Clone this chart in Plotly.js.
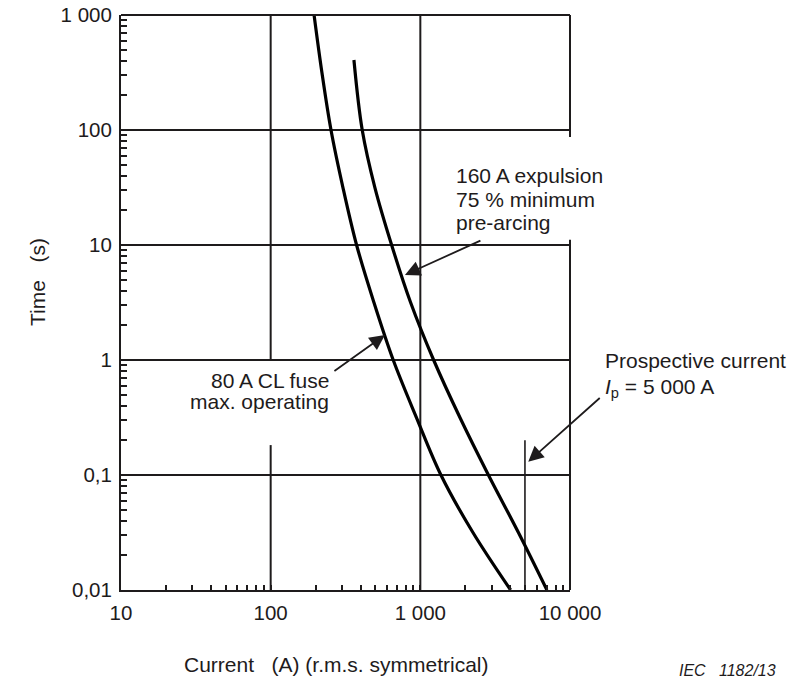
<!DOCTYPE html>
<html>
<head>
<meta charset="utf-8">
<script src="https://cdn.plot.ly/plotly-3.0.1.min.js"></script>
<style>html,body{margin:0;padding:0;background:#fff;}#chart{width:789px;height:677px;}</style>
</head>
<body>
<div id="chart"></div>
<script>
// Curve data (current in A, time in s)
const clFuseCurrent = [195, 220, 253, 304, 375, 490, 659, 942, 1373, 2246, 4011];
const clFuseTime    = [1000, 316, 100, 31.6, 10, 3.16, 1, 0.316, 0.1, 0.0316, 0.01];

const expulsionCurrent = [360, 409, 497, 643, 861, 1227, 1839, 2850, 4522, 7010];
const expulsionTime    = [406, 100, 31.6, 10, 3.16, 1, 0.316, 0.1, 0.0316, 0.01];

// Grid lines (partial, as in the reference)
const hGridTimes = [100, 10, 1, 0.1];
const gridXMin = 10, gridXMax = 10000;
const vGrid100 = {x: 100, segments: [[1000, 1], [0.182, 0.01]]};
const vGrid1000 = {x: 1000, segments: [[1000, 0.01]]};
const prospective = {x: 5000, segments: [[0.201, 0.01]]};

// Ticks
const xTickVals = [10,20,30,40,50,60,70,80,90,100,200,300,400,500,600,700,800,900,1000,2000,3000,4000,5000,6000,7000,8000,9000,10000];
const xTickText = ['10','','','','','','','','','100','','','','','','','','','1 000','','','','','','','','','10 000'];
const yTickVals = [0.01,0.02,0.03,0.04,0.05,0.06,0.07,0.08,0.09,0.1,0.2,0.3,0.4,0.5,0.6,0.7,0.8,0.9,1,2,3,4,5,6,7,8,9,10,20,30,40,50,60,70,80,90,100,200,300,400,500,600,700,800,900,1000];
const yTickText = ['0,01','','','','','','','','','0,1','','','','','','','','','1','','','','','','','','','10','','','','','','','','','100','','','','','','','','','1 000'];

const INK = '#1e1b1c';
const FONT = 'Liberation Sans, Arial, sans-serif';
const FS = 21;

const traces = [];
hGridTimes.forEach(t => traces.push({x: [gridXMin, gridXMax], y: [t, t], mode: 'lines', line: {color: INK, width: 2}, hoverinfo: 'skip'}));
[vGrid100, vGrid1000].forEach(g => g.segments.forEach(s => traces.push({x: [g.x, g.x], y: s, mode: 'lines', line: {color: INK, width: 2}, hoverinfo: 'skip'})));
prospective.segments.forEach(s => traces.push({x: [prospective.x, prospective.x], y: s, mode: 'lines', line: {color: INK, width: 1.6}, hoverinfo: 'skip'}));
traces.push({x: clFuseCurrent, y: clFuseTime, mode: 'lines', line: {color: '#000', width: 3.2, shape: 'spline', smoothing: 1}, name: '80 A CL fuse'});
traces.push({x: expulsionCurrent, y: expulsionTime, mode: 'lines', line: {color: '#000', width: 3.2, shape: 'spline', smoothing: 1}, name: '160 A expulsion'});

const lg = Math.log10;
function label(text, x, y, xanchor) {
  return {xref: 'paper', yref: 'paper', x: x, y: y, xanchor: xanchor, yanchor: 'middle', align: xanchor, showarrow: false, text: text, font: {size: FS}};
}
function arrow(xv, yv, ax, ay) {
  return {xref: 'x', yref: 'y', x: lg(xv), y: lg(yv), text: '', showarrow: true, arrowhead: 2, arrowsize: 1.7, arrowwidth: 1.8, arrowcolor: INK, ax: ax, ay: ay, standoff: 0};
}
const layout = {
  width: 789, height: 677,
  margin: {l: 121, r: 219, t: 15, b: 87},
  paper_bgcolor: '#fff', plot_bgcolor: '#fff',
  showlegend: false,
  font: {family: FONT, color: INK, size: FS},
  xaxis: {type: 'log', range: [1, 4], showgrid: false, zeroline: false,
    showline: true, linecolor: INK, linewidth: 2, mirror: false,
    tickmode: 'array', tickvals: xTickVals, ticktext: xTickText,
    ticks: 'inside', ticklen: 5, tickwidth: 2, tickcolor: INK, ticklabelstandoff: 3,
    tickfont: {size: 20.5, family: FONT, color: INK}},
  yaxis: {type: 'log', range: [-2, 3], showgrid: false, zeroline: false,
    showline: true, linecolor: INK, linewidth: 2, mirror: false,
    tickmode: 'array', tickvals: yTickVals, ticktext: yTickText,
    ticks: 'inside', ticklen: 6, tickwidth: 2, tickcolor: INK, ticklabelstandoff: 3,
    tickfont: {size: 20.5, family: FONT, color: INK}},
  shapes: [
    {type: 'line', xref: 'paper', yref: 'paper', x0: 0, x1: 1, y0: 1, y1: 1, line: {color: INK, width: 2}},
    {type: 'line', xref: 'paper', yref: 'paper', x0: 1, x1: 1, y0: 1, y1: 0.788, line: {color: INK, width: 2}},
    {type: 'line', xref: 'paper', yref: 'paper', x0: 1, x1: 1, y0: 0.609, y1: 0, line: {color: INK, width: 2}}
  ],
  annotations: [
    label('160 A expulsion', 0.7416, 0.7217, 'left'),
    label('75 % minimum', 0.7416, 0.6783, 'left'),
    label('pre-arcing', 0.7416, 0.6383, 'left'),
    label('80 A CL fuse', 0.4677, 0.3652, 'right'),
    label('max. operating', 0.4677, 0.3270, 'right'),
    label('Prospective current', 1.0735, 0.400, 'left'),
    label('<i>I</i><sub>p</sub> = 5 000 A', 1.0735, 0.3513, 'left'),
    arrow(789, 5.49, 77, -35),
    arrow(580, 1.65, -52, 37),
    arrow(5260, 0.1305, 73, -65),
    {xref: 'paper', yref: 'paper', x: -0.1849, y: 0.5357, textangle: -90, showarrow: false, xanchor: 'center', yanchor: 'middle',
     text: 'Time\u00a0\u00a0 (s)', font: {size: FS}},
    {xref: 'paper', yref: 'paper', x: 0.1359, y: -0.1304, showarrow: false, xanchor: 'left', yanchor: 'middle',
     text: 'Current\u00a0\u00a0 (A) (r.m.s. symmetrical)', font: {size: FS}},
    {xref: 'paper', yref: 'paper', x: 1.4633, y: -0.1403, showarrow: false, xanchor: 'right', yanchor: 'middle',
     text: '<i>IEC\u00a0\u00a0 1182/13</i>', font: {size: 16}}
  ]
};
Plotly.newPlot('chart', traces, layout, {displayModeBar: false, staticPlot: true});
</script>
</body>
</html>
